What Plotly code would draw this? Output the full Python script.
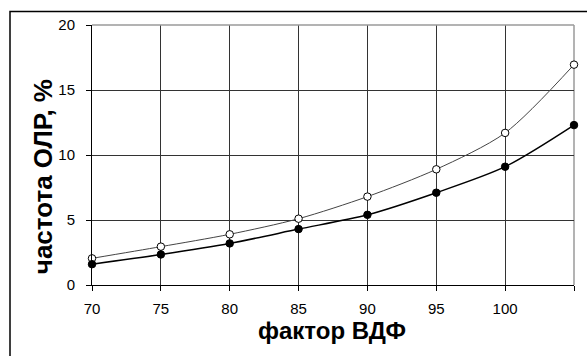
import plotly.graph_objects as go

x_vals = [70, 75, 80, 85, 90, 95, 100, 105]
open_series = [2.05, 2.95, 3.9, 5.1, 6.8, 8.9, 11.7, 16.95]
filled_series = [1.6, 2.35, 3.2, 4.3, 5.4, 7.1, 9.1, 12.3]
x_ticks = [70, 75, 80, 85, 90, 95, 100, 105]
x_ticktext = ["70", "75", "80", "85", "90", "95", "100", ""]
y_ticks = [0, 5, 10, 15, 20]

W, H = 587, 356
L, R, T, B = 92, 13, 24.5, 71
pw, ph = W - L - R, H - T - B

def px_x(p):
    return (p - L) / pw

def px_y(p):
    return (H - B - p) / ph

fig = go.Figure()
fig.add_trace(go.Scatter(
    x=x_vals, y=open_series, mode="lines+markers",
    line=dict(color="#444444", width=1, shape="spline", smoothing=0.8),
    marker=dict(symbol="circle", size=7.5, color="white", line=dict(color="black", width=1)),
    showlegend=False, cliponaxis=False))
fig.add_trace(go.Scatter(
    x=x_vals, y=filled_series, mode="lines+markers",
    line=dict(color="black", width=1.5, shape="spline", smoothing=0.8),
    marker=dict(symbol="circle", size=7.5, color="black", line=dict(color="black", width=1)),
    showlegend=False, cliponaxis=False))

fig.update_layout(
    width=W, height=H,
    margin=dict(l=L, r=R, t=T, b=B, pad=0),
    paper_bgcolor="white", plot_bgcolor="white",
    font=dict(family="Liberation Sans, Arial, sans-serif", color="black", size=15),
    xaxis=dict(range=[70, 105], tickvals=x_ticks, ticktext=x_ticktext,
               showgrid=True, gridcolor="#333333", gridwidth=1,
               showline=True, linecolor="black", linewidth=1,
               ticks="outside", ticklen=5, tickcolor="black",
               ticklabelstandoff=5,
               zeroline=False, fixedrange=True),
    yaxis=dict(range=[0, 20], tickvals=y_ticks,
               showgrid=True, gridcolor="#333333", gridwidth=1,
               showline=True, linecolor="black", linewidth=1,
               ticks="outside", ticklen=5, tickcolor="black",
               ticklabelstandoff=8,
               zeroline=False, fixedrange=True),
    annotations=[
        dict(text="<b>фактор ВДФ</b>", xref="paper", yref="paper",
             x=px_x(332), y=px_y(331), xanchor="center", yanchor="middle",
             showarrow=False, font=dict(size=24)),
        dict(text="<b>частота ОЛР, %</b>", xref="paper", yref="paper",
             x=px_x(43), y=px_y(177), xanchor="center", yanchor="middle",
             textangle=-90, showarrow=False, font=dict(size=26)),
    ],
    shapes=[
        dict(type="line", xref="paper", yref="paper", x0=0, x1=1, y0=1, y1=1,
             line=dict(color="#9a9a9a", width=1.5), layer="above"),
        dict(type="line", xref="paper", yref="paper", x0=1, x1=1, y0=0, y1=1,
             line=dict(color="#9a9a9a", width=1.5), layer="below"),
        dict(type="rect", xref="paper", yref="paper",
             x0=px_x(10), x1=px_x(600), y0=px_y(370), y1=px_y(11),
             line=dict(color="black", width=1.5)),
    ],
)

fig.write_html("out.html", config={"displayModeBar": False},
               post_script="document.body.style.margin='0px';")
